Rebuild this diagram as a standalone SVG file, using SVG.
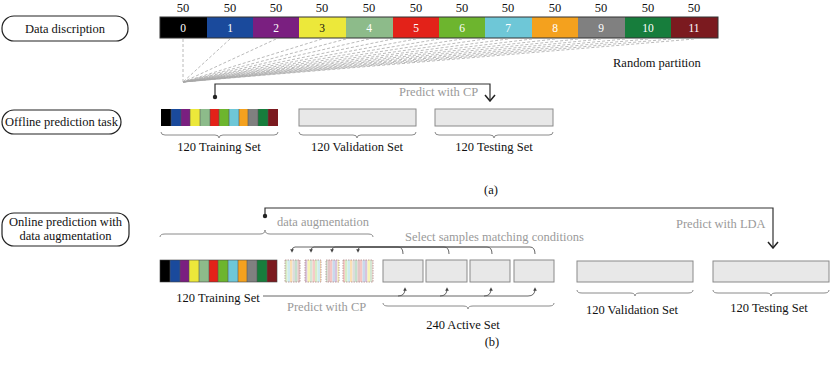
<svg xmlns="http://www.w3.org/2000/svg" width="830" height="368" viewBox="0 0 830 368">
<defs>
<style>
.t{font-family:"Liberation Serif","Times New Roman",serif;font-size:12.5px;fill:#111}
.g{font-family:"Liberation Serif","Times New Roman",serif;font-size:12.5px;fill:#9a9a9a}
.w{font-family:"Liberation Serif","Times New Roman",serif;font-size:11.5px;fill:#fff;text-anchor:middle}
.pill{fill:#fff;stroke:#222;stroke-width:1.2}
.box{fill:#e8e8e8;stroke:#8a8a8a;stroke-width:1}
.brace{fill:none;stroke:#8a8a8a;stroke-width:1}
.dash{stroke:#a8a8a8;stroke-width:0.8;stroke-dasharray:3,2;fill:none}
.conn{fill:none;stroke:#333;stroke-width:1.2}
.hook{fill:none;stroke:#555;stroke-width:0.9}
.aug{fill:url(#stripes);stroke:#b08a8a;stroke-width:0.8;stroke-dasharray:1.5,1}
</style>
<marker id="vee" viewBox="0 0 10 12" refX="9" refY="6" markerWidth="10" markerHeight="12" markerUnits="userSpaceOnUse" orient="auto">
<path d="M3,1 L9,6 L3,11" fill="none" stroke="#222" stroke-width="1.5"/>
</marker>
<marker id="small" viewBox="0 0 6 6" refX="3" refY="3" markerWidth="4" markerHeight="4" orient="auto">
<path d="M0,0 L6,3 L0,6 Z" fill="#444"/>
</marker>
<pattern id="stripes" width="30" height="22" patternUnits="userSpaceOnUse">
<rect x="0" y="0" width="2.5" height="22" fill="#f4c7c5"/>
<rect x="2.5" y="0" width="2.5" height="22" fill="#c8d9ec"/>
<rect x="5" y="0" width="2.5" height="22" fill="#d9c3dd"/>
<rect x="7.5" y="0" width="2.5" height="22" fill="#f7f4b5"/>
<rect x="10" y="0" width="2.5" height="22" fill="#d5e6d3"/>
<rect x="12.5" y="0" width="2.5" height="22" fill="#f5cbc7"/>
<rect x="15" y="0" width="2.5" height="22" fill="#d8ecc5"/>
<rect x="17.5" y="0" width="2.5" height="22" fill="#cdebf0"/>
<rect x="20" y="0" width="2.5" height="22" fill="#fbe0b5"/>
<rect x="22.5" y="0" width="2.5" height="22" fill="#dcdcdc"/>
<rect x="25" y="0" width="2.5" height="22" fill="#c4e0cc"/>
<rect x="27.5" y="0" width="2.5" height="22" fill="#e3c5c6"/>
</pattern>
</defs>
<rect width="830" height="368" fill="#fff"/>

<g id="label-data">
<rect class="pill" x="2" y="16" width="126" height="25" rx="12"/>
<text class="t" x="65" y="32.5" text-anchor="middle">Data discription</text>
</g>

<g id="data-bar">
<g class="t" text-anchor="middle">
<text x="183" y="12">50</text><text x="230" y="12">50</text><text x="276" y="12">50</text><text x="322" y="12">50</text><text x="369" y="12">50</text><text x="416" y="12">50</text><text x="462" y="12">50</text><text x="508" y="12">50</text><text x="555" y="12">50</text><text x="601" y="12">50</text><text x="648" y="12">50</text><text x="694" y="12">50</text>
</g>
<rect x="160" y="17" width="47" height="21" fill="#000"/>
<rect x="207" y="17" width="46" height="21" fill="#1a4a9c"/>
<rect x="253" y="17" width="46" height="21" fill="#7a1f80"/>
<rect x="299" y="17" width="47" height="21" fill="#ece83a"/>
<rect x="346" y="17" width="47" height="21" fill="#8dbb8a"/>
<rect x="393" y="17" width="46" height="21" fill="#e32219"/>
<rect x="439" y="17" width="46" height="21" fill="#6db52e"/>
<rect x="485" y="17" width="47" height="21" fill="#6ec7d7"/>
<rect x="532" y="17" width="46" height="21" fill="#f4a11e"/>
<rect x="578" y="17" width="47" height="21" fill="#808080"/>
<rect x="625" y="17" width="46" height="21" fill="#177d3c"/>
<rect x="671" y="17" width="47" height="21" fill="#7b1a1f"/>
<rect x="160" y="17" width="558" height="21" fill="none" stroke="#333" stroke-width="1"/>
<text class="w" x="183" y="31.5">0</text><text class="w" x="230" y="31.5">1</text><text class="w" x="276" y="31.5">2</text><text class="w" x="322" y="31.5" style="fill:#111">3</text><text class="w" x="369" y="31.5">4</text><text class="w" x="416" y="31.5">5</text><text class="w" x="462" y="31.5">6</text><text class="w" x="508" y="31.5">7</text><text class="w" x="555" y="31.5">8</text><text class="w" x="601" y="31.5">9</text><text class="w" x="648" y="31.5">10</text><text class="w" x="694" y="31.5">11</text>
</g>

<g id="partition-fan">
<path class="dash" d="M183 39 L183 82 M230 39 L183 82 M276 39 L183 82 M322 39 L183 82 M369 39 L183 82 M416 39 L183 82 M462 39 L183 82 M508 39 L183 82 M555 39 L183 82 M601 39 L183 82 M648 39 L183 82 M694 39 L183 82 M346 39 L183 82 M393 39 L183 82 M439 39 L183 82 M485 39 L183 82 M532 39 L183 82 M578 39 L183 82 M625 39 L183 82 M671 39 L183 82"/>
<text class="t" x="613" y="67">Random partition</text>
</g>

<g id="label-offline">
<rect class="pill" x="2" y="110" width="119" height="24" rx="12"/>
<text class="t" x="61.5" y="126" text-anchor="middle">Offline prediction task</text>
</g>

<g id="train-a">
<rect x="161" y="109" width="10" height="17" fill="#000"/>
<rect x="171" y="109" width="10" height="17" fill="#1a4a9c"/>
<rect x="181" y="109" width="9" height="17" fill="#7a1f80"/>
<rect x="190" y="109" width="10" height="17" fill="#ece83a"/>
<rect x="200" y="109" width="10" height="17" fill="#8dbb8a"/>
<rect x="210" y="109" width="9" height="17" fill="#e32219"/>
<rect x="219" y="109" width="10" height="17" fill="#6db52e"/>
<rect x="229" y="109" width="10" height="17" fill="#6ec7d7"/>
<rect x="239" y="109" width="9" height="17" fill="#f4a11e"/>
<rect x="248" y="109" width="10" height="17" fill="#808080"/>
<rect x="258" y="109" width="10" height="17" fill="#177d3c"/>
<rect x="268" y="109" width="10" height="17" fill="#7b1a1f"/>
<path d="M171 109v17M181 109v17M190 109v17M200 109v17M210 109v17M219 109v17M229 109v17M239 109v17M248 109v17M258 109v17M268 109v17" stroke="#555" stroke-width="0.6"/>
<path class="brace" d="M161 132 Q161 135 165 135 L215 135 Q219 135 219 138 Q219 135 223 135 L274 135 Q278 135 278 132"/>
<text class="t" x="219" y="151" text-anchor="middle">120 Training Set</text>
</g>

<g id="valid-a">
<rect class="box" x="299" y="109" width="117" height="17"/>
<path class="brace" d="M299 132 Q299 135 303 135 L353 135 Q357 135 357 138 Q357 135 361 135 L412 135 Q416 135 416 132"/>
<text class="t" x="357" y="151" text-anchor="middle">120 Validation Set</text>
</g>

<g id="test-a">
<rect class="box" x="435" y="109" width="118" height="17"/>
<path class="brace" d="M435 132 Q435 135 439 135 L490 135 Q494 135 494 138 Q494 135 498 135 L549 135 Q553 135 553 132"/>
<text class="t" x="494" y="151" text-anchor="middle">120 Testing Set</text>
</g>

<text class="t" x="491" y="194" text-anchor="middle">(a)</text>

<g id="label-online">
<rect class="pill" x="2" y="213" width="127" height="33" rx="12"/>
<text class="t" x="65.5" y="226" text-anchor="middle">Online prediction with</text>
<text class="t" x="65.5" y="240" text-anchor="middle">data augmentation</text>
</g>

<g id="train-b">
<rect x="160" y="260" width="10" height="22" fill="#000"/>
<rect x="170" y="260" width="10" height="22" fill="#1a4a9c"/>
<rect x="180" y="260" width="9" height="22" fill="#7a1f80"/>
<rect x="189" y="260" width="10" height="22" fill="#ece83a"/>
<rect x="199" y="260" width="10" height="22" fill="#8dbb8a"/>
<rect x="209" y="260" width="9" height="22" fill="#e32219"/>
<rect x="218" y="260" width="10" height="22" fill="#6db52e"/>
<rect x="228" y="260" width="10" height="22" fill="#6ec7d7"/>
<rect x="238" y="260" width="9" height="22" fill="#f4a11e"/>
<rect x="247" y="260" width="10" height="22" fill="#808080"/>
<rect x="257" y="260" width="10" height="22" fill="#177d3c"/>
<rect x="267" y="260" width="10" height="22" fill="#7b1a1f"/>
<path d="M170 260v22M180 260v22M189 260v22M199 260v22M209 260v22M218 260v22M228 260v22M238 260v22M247 260v22M257 260v22M267 260v22" stroke="#555" stroke-width="0.6"/>
<rect x="160" y="260" width="117" height="22" fill="none" stroke="#444" stroke-width="0.6"/>
<text class="t" x="218" y="302" text-anchor="middle">120 Training Set</text>
</g>

<g id="augmented">
<rect class="aug" x="285" y="260" width="15" height="22"/>
<rect class="aug" x="305" y="260" width="16" height="22"/>
<rect class="aug" x="326" y="260" width="13" height="22"/>
<rect class="aug" x="343" y="260" width="30" height="22"/>
<path class="brace" d="M160 237 Q160 234 165 234 L260 234 Q265 234 265 230 Q265 234 270 234 L368 234 Q373 234 373 237"/>
<text class="g" x="277" y="226">data augmentation</text>
</g>

<g id="active-set">
<rect class="box" x="383" y="260" width="40" height="22"/>
<rect class="box" x="426" y="260" width="41" height="22"/>
<rect class="box" x="470" y="260" width="40" height="22"/>
<rect class="box" x="514" y="260" width="40" height="22"/>
<path class="brace" d="M383 303 Q383 306 388 306 L463 306 Q468 306 468 309 Q468 306 473 306 L549 306 Q554 306 554 303"/>
<text class="t" x="463" y="329" text-anchor="middle">240 Active Set</text>
<text class="g" x="405" y="241">Select samples matching conditions</text>
</g>

<g id="valid-b">
<rect class="box" x="577" y="261" width="116" height="21"/>
<path class="brace" d="M577 290 Q577 293 582 293 L630 293 Q635 293 635 296 Q635 293 640 293 L688 293 Q693 293 693 290"/>
<text class="t" x="632" y="314" text-anchor="middle">120 Validation Set</text>
</g>

<g id="test-b">
<rect class="box" x="713" y="261" width="116" height="21"/>
<path class="brace" d="M713 290 Q713 293 718 293 L766 293 Q771 293 771 296 Q771 293 776 293 L824 293 Q829 293 829 290"/>
<text class="t" x="769" y="312" text-anchor="middle">120 Testing Set</text>
</g>

<text class="t" x="492" y="346" text-anchor="middle">(b)</text>

<g id="connectors">
<path class="conn" d="M215 97 L215 84 L490 84 L490 101" marker-end="url(#vee)"/>
<circle cx="215" cy="97" r="2.2" fill="#222"/>
<text class="g" x="399" y="96">Predict with CP</text>

<path class="conn" d="M265 216 L265 208 L773 208 L773 248" marker-end="url(#vee)"/>
<circle cx="265" cy="216" r="2.2" fill="#222"/>
<text class="g" x="676" y="228">Predict with LDA</text>

<path class="hook" d="M403 254 Q403 247 398 247 L295 247 Q292 247 292 251" marker-end="url(#small)"/>
<path class="hook" d="M449 254 Q449 247 444 247 L314 247 Q311 247 311 251" marker-end="url(#small)"/>
<path class="hook" d="M492 254 Q492 247 487 247 L335 247 Q332 247 332 251" marker-end="url(#small)"/>
<path class="hook" d="M535 254 Q535 247 530 247 L361 247 Q358 247 358 251" marker-end="url(#small)"/>

<path class="hook" d="M263 296 L528 296" stroke="#666"/>
<path class="hook" d="M398 296 Q405 296 405 289" marker-end="url(#small)"/>
<path class="hook" d="M440 296 Q447 296 447 289" marker-end="url(#small)"/>
<path class="hook" d="M484 296 Q491 296 491 289" marker-end="url(#small)"/>
<path class="hook" d="M528 296 Q535 296 535 289" marker-end="url(#small)"/>
<text class="g" x="287" y="311">Predict with CP</text>
</g>
</svg>
